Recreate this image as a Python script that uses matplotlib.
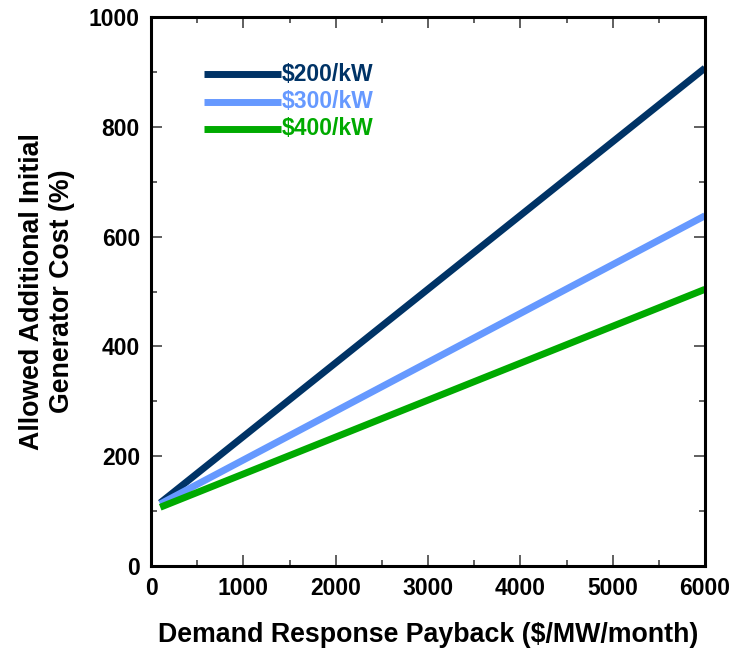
import matplotlib
matplotlib.use("Agg")
import matplotlib.pyplot as plt
from matplotlib.ticker import MultipleLocator

plt.rcParams['font.family'] = ['Liberation Sans', 'DejaVu Sans']
plt.rcParams['font.weight'] = 'bold'

payback = [100, 6000]
series_names = ["$200/kW", "$300/kW", "$400/kW"]
cost_200 = [115, 907]
cost_300 = [113, 638]
cost_400 = [107, 504]
colors = ["#003366", "#6699ff", "#00aa00"]

fig = plt.figure(figsize=(7.3, 6.56), dpi=100)
ax = fig.add_axes([151/730, 1 - 566/656, (705-151)/730, (566-17)/656])

for ys, c in zip([cost_200, cost_300, cost_400], colors):
    ax.plot(payback, ys, color=c, lw=5, solid_capstyle='butt', clip_on=False)

ax.set_xlim(0, 6000)
ax.set_ylim(0, 1000)
ax.xaxis.set_major_locator(MultipleLocator(1000))
ax.xaxis.set_minor_locator(MultipleLocator(500))
ax.yaxis.set_major_locator(MultipleLocator(200))
ax.yaxis.set_minor_locator(MultipleLocator(100))
ax.tick_params(which='both', direction='in', top=True, right=True, width=1.2, color='#444444')
ax.tick_params(which='major', length=8, labelsize=16.5, pad=8)
ax.tick_params(which='minor', length=4)
for s in ax.spines.values():
    s.set_linewidth(2.2)

ax.set_xlabel("Demand Response Payback ($/MW/month)", fontsize=19.3, fontweight='bold', labelpad=16)
ax.set_ylabel("Allowed Additional Initial\nGenerator Cost (%)", fontsize=19.3, fontweight='bold')
ax.yaxis.set_label_coords(-0.138, 0.5)

# legend drawn as line samples with coloured labels
leg_y = [0.896, 0.846, 0.796]
for name, c, y in zip(series_names, colors, leg_y):
    ax.plot([0.095, 0.235], [y, y], transform=ax.transAxes, color=c, lw=5, solid_capstyle='butt')
    ax.text(0.236, y, name, transform=ax.transAxes, color=c, fontsize=16.5, fontweight='bold', va='center', ha='left')

fig.savefig("out.png", dpi=100)
